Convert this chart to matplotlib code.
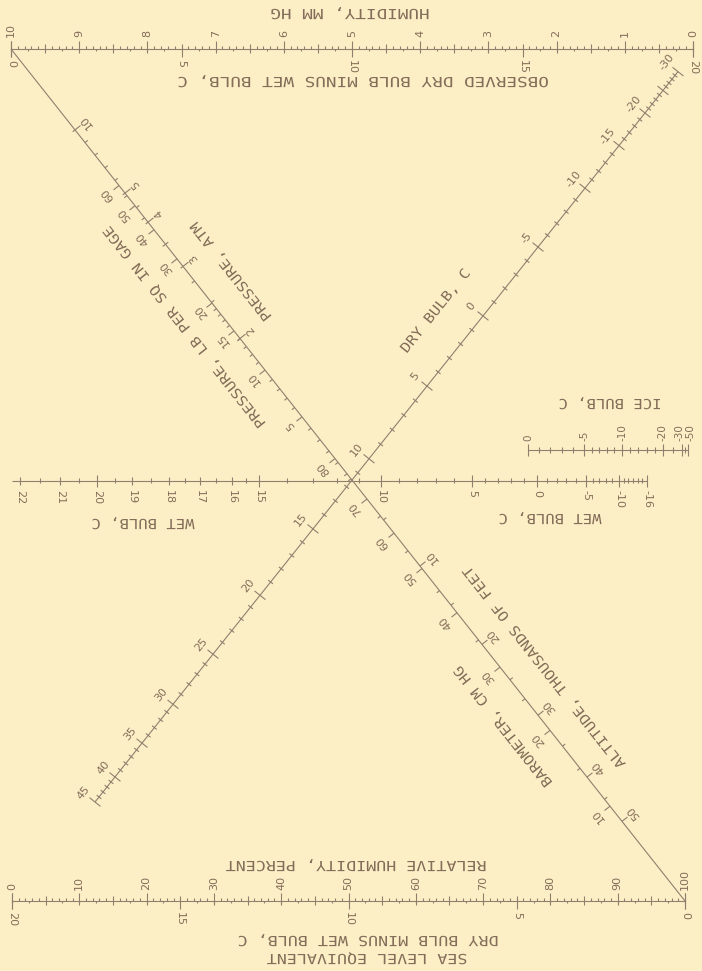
import numpy as np
import matplotlib.pyplot as plt
from matplotlib.collections import LineCollection
from matplotlib import patheffects
from matplotlib.transforms import Affine2D

bg = '#fcefc6'
ink = '#917f6e'
txt = '#846d59'

# ---------------- values on the scales ----------------
mm_hg = [10, 9, 8, 7, 6, 5, 4, 3, 2, 1, 0]          # top ruler, above
obs_dt = [0, 5, 10, 15, 20]                           # top ruler, below
rel_hum = [0, 10, 20, 30, 40, 50, 60, 70, 80, 90, 100]  # bottom ruler, above
sea_dt = [20, 15, 10, 5, 0]                           # bottom ruler, below

wet_lab = [22, 21, 20, 19, 18, 17, 16, 15, 10, 5, 0, -5, -10, -16]
ice_lab = [0, -5, -10, -20, -30, -50]
dry_lab = [-30, -20, -15, -10, -5, 0, 5, 10, 15, 20, 25, 30, 35, 40, 45]
atm_lab = [10, 5, 4, 3, 2]
psi_lab = [60, 50, 40, 30, 20, 15, 10, 5]
baro_lab = [80, 70, 60, 50, 40, 30, 20, 10]
alt_lab = [10, 20, 30, 40, 50]

# ---------------- scale calibration (value -> x pixel) ----------------
wet_val = [-16, -10, -5, 0, 5, 10, 11, 12, 13, 14, 15, 16, 17, 18, 19, 20, 21, 22]
wet_x = [647, 619, 586, 537, 472, 381, 359, 337, 313, 287, 259, 232, 200, 169, 132, 97, 60, 20]
ice_val = [-50, -30, -20, -10, -5, 0]
ice_x = [688, 682, 663, 622, 584, 528]
dry_val = [-30, -25, -20, -15, -10, -5, 0, 5, 10, 15, 20, 25, 30, 35, 40, 45]
dry_x = [678, 663, 645, 619, 585, 538, 483, 427, 369, 313, 260, 213, 173, 142, 115, 95]
atm_val = [2, 3, 4, 5, 10]
atm_x = [240, 183, 148, 125, 75]
psi_val = [0, 5, 10, 15, 20, 30, 40, 50, 60]
psi_x = [347, 302, 265, 234, 212, 177, 154, 135, 119]
baro_val = [10, 20, 30, 40, 50, 60, 70, 80]
baro_x = [610, 550, 500, 457, 422, 394, 367, 335]
alt_val = [0, 10, 20, 30, 40, 50]
alt_x = [347, 420, 482, 538, 587, 622]

# ---------------- layout ----------------
TOP_Y, TOP_X0, TOP_X1 = 49, 11, 693
BOT_Y, BOT_X0, BOT_X1 = 901, 12, 685
WET_Y, ICE_Y = 481, 450
A0, A1 = np.array([11., 49.]), np.array([685., 901.])     # pressure / barometer line
B0, B1 = np.array([645., 113.]), np.array([95., 802.])    # dry bulb line
ice_nudge = {-30: -2.5, -50: 2.5}

dA = (A1 - A0) / np.hypot(*(A1 - A0))
nA = np.array([dA[1], -dA[0]])          # points up-right
dB = (B1 - B0) / np.hypot(*(B1 - B0))
nB = np.array([-dB[1], dB[0]])          # points up-left
rotA = np.degrees(np.arctan2(dA[1], -dA[0]))
rotB = np.degrees(np.arctan2(dB[1], -dB[0]))


class Widen(patheffects.AbstractPathEffect):
    # spread the lettering sideways like the stencil lettering of the chart
    def __init__(self, sx):
        super().__init__()
        self.sx = sx

    def draw_path(self, renderer, gc, tpath, affine, rgbFace=None):
        xs = tpath.vertices[:, 0]
        mid = (xs.min() + xs.max()) / 2
        t = Affine2D().translate(-mid, 0).scale(self.sx, 1).translate(mid, 0)
        renderer.draw_path(gc, tpath, t + affine, rgbFace)


def on_a(x):
    x = np.asarray(x, float)
    return np.stack([x, A0[1] + (x - A0[0]) * (A1[1] - A0[1]) / (A1[0] - A0[0])], -1)


def on_b(x):
    x = np.asarray(x, float)
    return np.stack([x, B0[1] + (x - B0[0]) * (B1[1] - B0[1]) / (B1[0] - B0[0])], -1)


fig = plt.figure(figsize=(7.02, 9.71), dpi=100)
fig.patch.set_facecolor(bg)
ax = fig.add_axes([0, 0, 1, 1])
ax.set_xlim(0, 702)
ax.set_ylim(971, 0)
ax.axis('off')

segs = []
numk = dict(family='DejaVu Sans', fontsize=8, color=txt, rotation_mode='anchor')
ttlk = dict(family='DejaVu Sans Mono', fontsize=10, color=txt, ha='center', va='center',
            rotation_mode='anchor', path_effects=[Widen(1.12)])
bigk = dict(ttlk, path_effects=[Widen(1.27)])


def hticks(xs, y, up, down):
    for x, u, d in zip(xs, up, down):
        segs.append([(x, y - u), (x, y + d)])


def nticks(pts, n, a, b):
    for p, aa, bb in zip(pts, a, b):
        segs.append([p + aa * n, p + bb * n])


# ---- top ruler ----
segs.append([(TOP_X0, TOP_Y), (TOP_X1, TOP_Y)])
v = np.round(np.arange(0, 100.1, 1)) / 10
x = np.interp(v, [0, 10], [TOP_X1, TOP_X0])
up = np.where(v % 1 == 0, 8, np.where(np.isclose(v % 1, 0.5), 4.5, 2.5))
hticks(x, TOP_Y, up, np.where(v % 1 == 0, 2, 0))
v = np.arange(0, 20.01, 0.5)
x = np.interp(v, [0, 20], [TOP_X0, TOP_X1])
dn = np.where(v % 5 == 0, 8, np.where(v % 1 == 0, 4.5, 2.5))
hticks(x, TOP_Y, np.where(v % 5 == 0, 2, 0), dn)
for e in (TOP_X0, TOP_X1):
    segs.append([(e, TOP_Y - 8), (e, TOP_Y + 8)])
for m in mm_hg:
    ax.text(np.interp(m, [0, 10], [TOP_X1, TOP_X0]), TOP_Y - 12, str(m),
            rotation=90, ha='left', va='center', **numk)
for m in obs_dt:
    ax.text(np.interp(m, [0, 20], [TOP_X0, TOP_X1]), TOP_Y + 11, str(m),
            rotation=-90, ha='left', va='center', **numk)
ax.text(350, 13, 'HUMIDITY, MM HG', rotation=180, **bigk)
ax.text(363, 81, 'OBSERVED DRY BULB MINUS WET BULB, C', rotation=180, **bigk)

# ---- bottom ruler ----
segs.append([(BOT_X0, BOT_Y), (BOT_X1, BOT_Y)])
v = np.arange(0, 100.1, 1)
x = np.interp(v, [0, 100], [BOT_X0, BOT_X1])
up = np.where(v % 10 == 0, 8, np.where(v % 5 == 0, 4.5, 2.5))
hticks(x, BOT_Y, up, np.where(v % 10 == 0, 2, 0))
v = np.arange(0, 20.01, 0.5)
x = np.interp(v, [0, 20], [BOT_X1, BOT_X0])
dn = np.where(v % 5 == 0, 8, np.where(v % 1 == 0, 4.5, 2.5))
hticks(x, BOT_Y, np.where(v % 5 == 0, 2, 0), dn)
for e in (BOT_X0, BOT_X1):
    segs.append([(e, BOT_Y - 8), (e, BOT_Y + 8)])
for r in rel_hum:
    ax.text(np.interp(r, [0, 100], [BOT_X0, BOT_X1]), BOT_Y - 11, str(r),
            rotation=90, ha='left', va='center', **numk)
for m in sea_dt:
    ax.text(np.interp(m, [0, 20], [BOT_X1, BOT_X0]), BOT_Y + 11, str(m),
            rotation=-90, ha='left', va='center', **numk)
ax.text(356, 865, 'RELATIVE HUMIDITY, PERCENT', rotation=180, **dict(bigk, path_effects=[Widen(1.2)]))
ax.text(368, 940, 'DRY BULB MINUS WET BULB, C', rotation=180, **dict(bigk, path_effects=[Widen(1.2)]))
ax.text(367, 958, 'SEA LEVEL EQUIVALENT', rotation=180, **dict(bigk, path_effects=[Widen(1.2)]))

# ---- wet bulb ----
segs.append([(12, WET_Y), (wet_x[0], WET_Y)])
v = np.concatenate([np.arange(-16, 15, 1.0), np.arange(15, 22.01, 0.5)])
x = np.interp(v, wet_val, wet_x)
big = np.array([(w in wet_lab) and (w % 5 == 0 or w == -16) for w in v])
lab = np.array([w in wet_lab for w in v])
ln = np.where(big, 6, np.where(lab, 4, 2.5))
hticks(x, WET_Y, ln, ln)
for w in wet_lab:
    ax.text(np.interp(w, wet_val, wet_x), WET_Y + 9, str(w),
            rotation=-90, ha='left', va='center', **numk)
ax.text(143, 523, 'WET BULB, C', rotation=180, **ttlk)
ax.text(550, 518, 'WET BULB, C', rotation=180, **ttlk)

# ---- ice bulb ----
segs.append([(ice_x[-1], ICE_Y), (ice_x[0], ICE_Y)])
v = np.concatenate([np.arange(-10, 0.1, 1.0), np.arange(-20, -10, 2.0), [-25, -30, -40, -50]])
x = np.interp(v, ice_val, ice_x)
ln = np.where(np.isin(v, ice_lab), 6, 3)
hticks(x, ICE_Y, ln, ln)
for w in ice_lab:
    ax.text(np.interp(w, ice_val, ice_x) + ice_nudge.get(w, 0), ICE_Y - 9, str(w),
            rotation=90, ha='left', va='center', **dict(numk, fontsize=7.5))
ax.text(610, 403, 'ICE BULB, C', rotation=180, **ttlk)

# ---- dry bulb diagonal ----
ends = on_b([dry_x[0], dry_x[-1]])
segs.append([ends[0], ends[1]])
v = np.arange(-30, 45.1, 1.0)
p = on_b(np.interp(v, dry_val, dry_x))
ln = np.where(v % 5 == 0, 7, 3)
nticks(p, nB, -ln, ln)
for w in dry_lab:
    q = on_b(np.interp(w, dry_val, dry_x)) + 15 * nB
    ax.text(q[0], q[1], str(w), rotation=rotB, ha='center', va='center', **numk)
q = on_b(467) + 40 * nB
ax.text(q[0], q[1], 'DRY BULB, C', rotation=rotB, **ttlk)

# ---- pressure / barometer diagonal ----
segs.append([A0, A1])
v = np.concatenate([np.arange(2, 5, 0.5), np.arange(5, 10.1, 1)])
p = on_a(np.interp(v, atm_val, atm_x))
big = np.isin(v, atm_lab)
nticks(p, nA, np.where(big, -3, 0), np.where(big, 7, 3.5))
for w in atm_lab:
    q = on_a(np.interp(w, atm_val, atm_x)) + 14 * nA
    ax.text(q[0], q[1], str(w), rotation=rotA, ha='center', va='center', **numk)

v = np.concatenate([np.arange(0, 20, 1.0), np.arange(20, 60.1, 5)])
p = on_a(np.interp(v, psi_val, psi_x))
ln = np.where(np.isin(v, psi_lab), 7, 3.5)
nticks(p, -nA, np.zeros_like(ln), ln)
for w in psi_lab:
    q = on_a(np.interp(w, psi_val, psi_x)) - 14 * nA
    ax.text(q[0], q[1], str(w), rotation=rotA, ha='center', va='center', **numk)

v = np.arange(10, 80.1, 5.0)
p = on_a(np.interp(v, baro_val, baro_x))
ln = np.where(v % 10 == 0, 7, 3.5)
nticks(p, -nA, np.zeros_like(ln), ln)
for w in baro_lab:
    q = on_a(np.interp(w, baro_val, baro_x)) - 15 * nA
    ax.text(q[0], q[1], str(w), rotation=rotA, ha='center', va='center', **numk)

v = np.arange(5, 50.1, 5.0)
p = on_a(np.interp(v, alt_val, alt_x))
ln = np.where(v % 10 == 0, 7, 3.5)
nticks(p, nA, np.zeros_like(ln), ln)
for w in alt_lab:
    q = on_a(np.interp(w, alt_val, alt_x)) + 15 * nA
    ax.text(q[0], q[1], str(w), rotation=rotA, ha='center', va='center', **numk)

for fx, off, s in [(204, 35, 'PRESSURE, ATM'),
                   (213, -36, 'PRESSURE, LB PER SQ IN GAGE'),
                   (530, -34, 'BAROMETER, CM HG'),
                   (517, 35, 'ALTITUDE, THOUSANDS OF FEET')]:
    q = on_a(fx) + off * nA
    ax.text(q[0], q[1], s, rotation=rotA, **ttlk)

ax.add_collection(LineCollection(segs, colors=ink, linewidths=0.8))

fig.savefig('out.png', dpi=100, facecolor=bg)
